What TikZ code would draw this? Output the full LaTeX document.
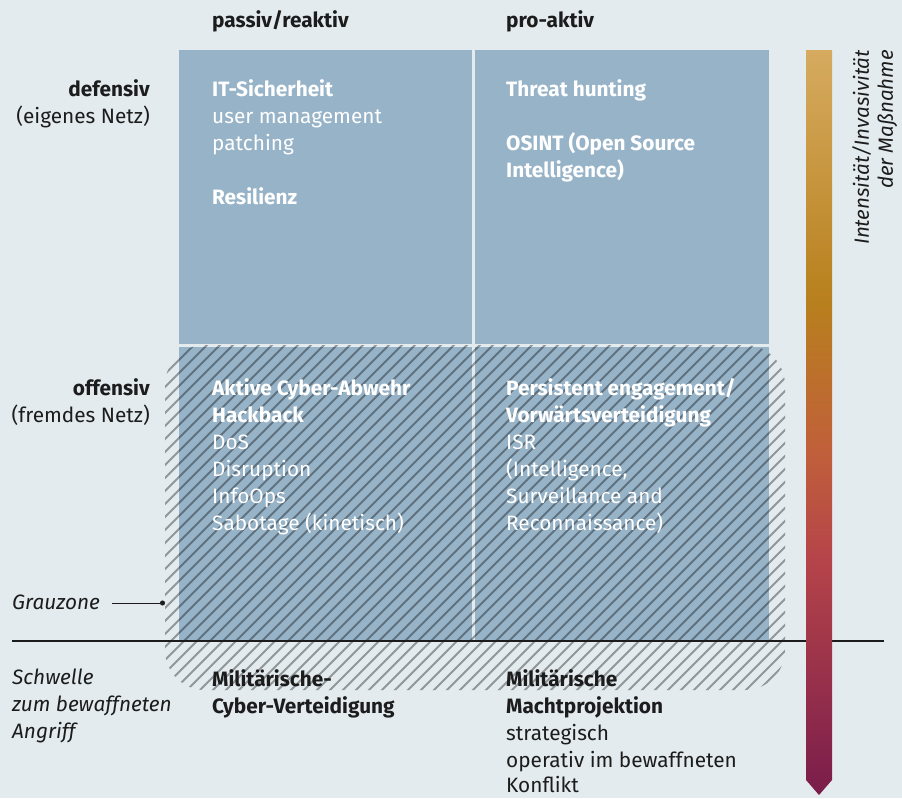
\documentclass[tikz,border=0pt]{standalone}
\usepackage{fontspec}
\setmainfont{Fira Sans}
\usetikzlibrary{positioning}
\usetikzlibrary{arrows.meta}

\definecolor{bgcol}{HTML}{E3EBEF}
\definecolor{cellcol}{HTML}{97B3C8}
\definecolor{inkcol}{HTML}{1C1C1C}
\definecolor{bartop}{HTML}{D6AB60}
\definecolor{bargold}{HTML}{B8801D}
\definecolor{barorange}{HTML}{C0603A}
\definecolor{barred}{HTML}{B5444A}
\definecolor{barbot}{HTML}{7A1D4B}
\pgfdeclareverticalshading{intensity}{100bp}{color(0bp)=(barbot); color(25bp)=(barbot); color(40.8bp)=(barred); color(48.2bp)=(barorange); color(58.2bp)=(bargold); color(75bp)=(bartop); color(100bp)=(bartop)}

\newcommand{\txtsize}{\fontsize{20.8}{27}\selectfont}

\tikzset{
    cell/.style={rectangle, fill=cellcol, draw=none, inner sep=0, anchor=north west},
    celltext/.style={text=white, align=left, inner sep=0, font=\txtsize},
    sidetext/.style={text=inkcol, align=right, inner sep=0, font=\txtsize},
    plaintext/.style={text=inkcol, align=left, inner sep=0, font=\txtsize},
    hatchline/.style={black, opacity=.36, line width=1.9pt},
}

\begin{document}
\begin{tikzpicture}[x=1pt,y=-1pt]
    \fill[bgcol] (0,0) rectangle (902,798);
    \useasboundingbox (0,0) rectangle (902,798);
    % quadrants
    \node[cell, minimum width=293pt, minimum height=294pt] (tl) at (179,50) {};
    \node[cell, minimum width=294pt, minimum height=294pt] (tr) at (475,50) {};
    \node[cell, minimum width=293pt, minimum height=293pt] (bl) at (179,347) {};
    \node[cell, minimum width=294pt, minimum height=293pt] (br) at (475,347) {};
    % grey zone
    \begin{scope}
        \clip[rounded corners=40pt] (165,345) rectangle (785,690);
        \foreach \hx in {-200,-187,...,790}
            \draw[hatchline] (\hx,700) -- ++(360,-360);
    \end{scope}
    % column heads
    \node[plaintext, font=\txtsize\bfseries, anchor=base west] (colpassiv) at (212,27) {passiv/reaktiv};
    \node[plaintext, font=\txtsize\bfseries, anchor=base west] (colpro) at (506,27) {pro-aktiv};
    % row heads
    \node[sidetext, below left=29pt and 29pt of tl.north west] (rowdef) {\textbf{defensiv}\\(eigenes Netz)};
    \node[sidetext, below left=31pt and 29pt of bl.north west] (rowoff) {\textbf{offensiv}\\(fremdes Netz)};
    % cell texts
    \node[celltext, below right=29pt and 33pt of tl.north west] (tltext) {\textbf{IT-Sicherheit}\\user management\\patching\\[27pt]\textbf{Resilienz}};
    \node[celltext, below right=29pt and 31pt of tr.north west] (trtext) {\textbf{Threat hunting}\\[27pt]\textbf{OSINT (Open Source}\\\textbf{Intelligence)}};
    \node[celltext, below right=31pt and 33pt of bl.north west] (bltext) {\textbf{Aktive Cyber-Abwehr}\\\textbf{Hackback}\\DoS\\Disruption\\InfoOps\\Sabotage (kinetisch)};
    \node[celltext, below right=31pt and 31pt of br.north west] (brtext) {\textbf{Persistent engagement/}\\\textbf{Vorwärtsverteidigung}\\ISR\\(Intelligence,\\Surveillance and\\Reconnaissance)};
    % grey zone label
    \node[plaintext, font=\txtsize\itshape, anchor=base west] (grau) at (12,609) {Grauzone};
    \coordinate (graudot) at (165,603);
    \draw[inkcol, line width=.9pt, shorten <=12pt, -{Circle[length=5pt]}] (grau.east |- graudot) -- (graudot);
    % threshold
    \coordinate (thl) at (12,641);
    \coordinate (thr) at (884,641);
    \draw[inkcol, line width=2pt] (thl) -- (thr);
    \node[plaintext, font=\txtsize\itshape, anchor=north west] (schwelle) at (12,669) {Schwelle\\zum bewaffneten\\Angriff};
    \node[plaintext, font=\txtsize\bfseries, anchor=north west] (milcyber) at (212,669) {Militärische-\\Cyber-Verteidigung};
    \node[plaintext, anchor=north west] (milmacht) at (506,669) {\textbf{Militärische}\\\textbf{Machtprojektion}\\strategisch\\operativ im bewaffneten\\[-1.5pt]Konflikt};
    % intensity bar
    \shade[shading=intensity] (806,50) -- (832,50) -- (832,780) -- (819,795) -- (806,780) -- cycle;
    \node[rotate=90, anchor=north east, align=right, inner sep=0, text=inkcol,
          font=\fontsize{20.5}{24}\selectfont\itshape] (barlabel) at (852,50) {Intensität/Invasivität\\der Maßnahme};
\end{tikzpicture}
\end{document}
